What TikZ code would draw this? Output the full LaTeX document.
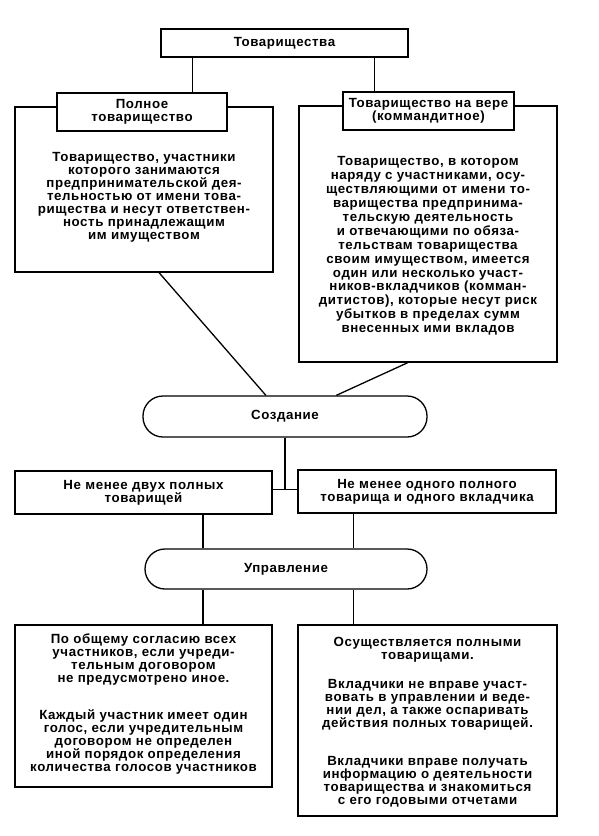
\documentclass[tikz,border=0pt]{standalone}
\usepackage{fontspec}
\setmainfont{Liberation Sans}[LetterSpace=4.5,UprightFont=* Bold]
\usetikzlibrary{calc}
\begin{document}
\begin{tikzpicture}[x=1pt,y=-1pt,
  every node/.style={font=\fontsize{13.3}{13}\selectfont, align=center, inner sep=0pt},
  box/.style={draw, line width=1.3pt, fill=white},
  stadium/.style={draw, line width=1.3pt, rounded corners=20pt},
  conn/.style={line width=1.3pt}]
\useasboundingbox (0,0) rectangle (598,836);
% top
\node[box, minimum width=247, minimum height=28] (top) at (284.5,43) {Товарищества};
% big boxes
\node[box, minimum width=258, minimum height=165] (big1) at (144,189.5) {};
\node[box, minimum width=258, minimum height=256] (big2) at (428,234) {};
\node[box, minimum width=170, minimum height=38] (lbl1) at (142,112) {Полное\\товарищество};
\node[box, minimum width=171, minimum height=38] (lbl2) at (428.5,111) {Товарищество на вере\\(коммандитное)};
\node (t1) at (144,197) {Товарищество, участники\\которого занимаются\\предпринимательской дея-\\тельностью от имени това-\\рищества и несут ответствен-\\ность принадлежащим\\им имуществом};
\node[font=\fontsize{13.3}{13.9}\selectfont] (t2) at (428,246) {Товарищество, в котором\\наряду с участниками, осу-\\ществляющими от имени то-\\варищества предпринима-\\тельскую деятельность\\и отвечающими по обяза-\\тельствам товарищества\\своим имуществом, имеется\\один или несколько участ-\\ников-вкладчиков (комман-\\дитистов), которые несут риск\\убытков в пределах сумм\\внесенных ими вкладов};
% creation
\node[stadium, minimum width=284, minimum height=41] (sozd) at (285,416.5) {Создание};
\node[box, minimum width=257, minimum height=43] (mid1) at (143.5,492.5) {Не менее двух полных\\товарищей};
\node[box, minimum width=258, minimum height=43] (mid2) at (427,491.5) {Не менее одного полного\\товарища и одного вкладчика};
% management
\node[stadium, minimum width=282, minimum height=40] (upr) at (286,569) {Управление};
\node[box, minimum width=257, minimum height=162] (bot1) at (143.5,706) {};
\node[box, minimum width=259, minimum height=191] (bot2) at (427.5,720.5) {};
\node (b1) at (143.5,704) {По общему согласию всех\\участников, если учреди-\\тельным договором\\не предусмотрено иное.\\[24pt]Каждый участник имеет один\\голос, если учредительным\\договором не определен\\иной порядок определения\\количества голосов участников};
\node (b2) at (427.5,722) {Осуществляется полными\\товарищами.\\[16pt]Вкладчики не вправе участ-\\вовать в управлении и веде-\\нии дел, а также оспаривать\\действия полных товарищей.\\[25pt]Вкладчики вправе получать\\информацию о деятельности\\товарищества и знакомиться\\с его годовыми отчетами};
% connectors
\coordinate (a1) at ($(top.south west)!0.13!(top.south east)$);
\coordinate (a2) at ($(top.south west)!0.862!(top.south east)$);
\draw[conn] (a1) -- (a1 |- lbl1.north);
\draw[conn] (a2) -- (a2 |- lbl2.north);
\draw[conn] ($(big1.south west)!0.558!(big1.south east)$) -- ($(sozd.north west)!0.433!(sozd.north east)$);
\draw[conn] ($(big2.south west)!0.422!(big2.south east)$) -- ($(sozd.north west)!0.68!(sozd.north east)$);
\coordinate (jt) at ($(mid1.north east)!0.43!(mid1.south east)$);
\draw[conn] (sozd.south) -- (sozd.south |- jt);
\draw[conn] (jt) -- (jt -| mid2.west);
\coordinate (m1) at ($(mid1.south west)!0.73!(mid1.south east)$);
\coordinate (m2) at ($(mid2.south west)!0.217!(mid2.south east)$);
\draw[conn] (m1) -- (m1 |- upr.north);
\draw[conn] (m2) -- (m2 |- upr.north);
\draw[conn] (m1 |- upr.south) -- (m1 |- bot1.north);
\draw[conn] (m2 |- upr.south) -- (m2 |- bot2.north);
\end{tikzpicture}
\end{document}
